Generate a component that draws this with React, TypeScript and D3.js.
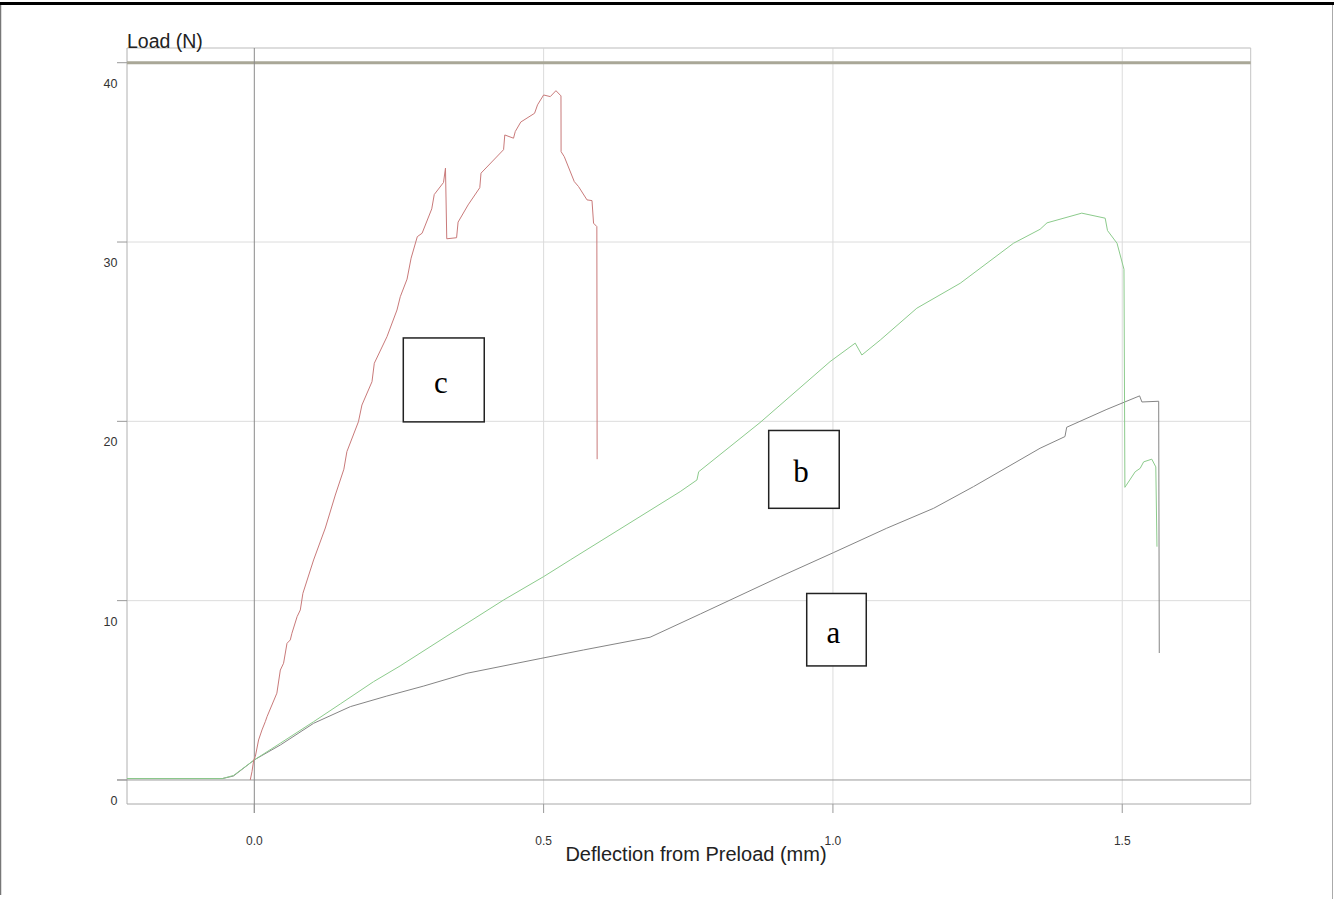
import React, { useEffect, useRef } from 'react';
import * as d3 from 'd3';

// deflection (mm), load (N) pairs
const curveA: [number, number][] = [
  [-0.22, 0.08], [-0.055, 0.08], [-0.036, 0.22], [0, 1.12], [0.045, 1.95], [0.1025, 3.16],
  [0.166, 4.09], [0.229, 4.68], [0.293, 5.24], [0.3675, 5.95], [0.494, 6.77], [0.569, 7.25],
  [0.684, 7.96], [0.771, 9.26], [0.909, 11.34], [1.001, 12.68], [1.093, 14.04], [1.174, 15.15],
  [1.243, 16.36], [1.358, 18.5], [1.401, 19.15], [1.404, 19.67], [1.4735, 20.67], [1.53, 21.42],
  [1.534, 21.08], [1.563, 21.12], [1.564, 7.08],
];

const curveB: [number, number][] = [
  [-0.22, 0.08], [-0.055, 0.08], [-0.036, 0.25], [0, 1.12], [0.045, 2.05], [0.1025, 3.25],
  [0.1486, 4.24], [0.206, 5.48], [0.252, 6.36], [0.333, 8.03], [0.431, 10.04], [0.5, 11.34],
  [0.546, 12.27], [0.736, 16.08], [0.765, 16.73], [0.768, 17.19], [0.874, 19.93], [0.995, 23.33],
  [1.0385, 24.36], [1.05, 23.7], [1.082, 24.54], [1.145, 26.31], [1.22, 27.7], [1.312, 29.93],
  [1.358, 30.71], [1.37, 31.07], [1.43, 31.61], [1.4705, 31.33], [1.4745, 30.64], [1.491, 29.93],
  [1.503, 28.48], [1.5046, 16.32], [1.5224, 17.19], [1.531, 17.38], [1.537, 17.74], [1.551, 17.89],
  [1.558, 17.46], [1.56, 13.01],
];

const curveC: [number, number][] = [
  [-0.007, 0], [-0.004, 0.46], [-0.001, 1.12], [0.0017, 1.3], [0.0074, 2.23], [0.0133, 2.79],
  [0.019, 3.25], [0.022, 3.53], [0.039, 4.84], [0.045, 6.13], [0.0506, 6.51], [0.0565, 7.62],
  [0.0622, 7.81], [0.065, 8.18], [0.074, 9.11], [0.0795, 9.48], [0.084, 10.41], [0.1025, 12.27],
  [0.1227, 14.05], [0.14, 15.89], [0.1548, 17.33], [0.16, 18.31], [0.18, 19.98], [0.186, 20.91],
  [0.2034, 22.21], [0.2074, 23.24], [0.2293, 24.72], [0.2466, 26.21], [0.2523, 26.95],
  [0.264, 27.93], [0.271, 29.1], [0.2817, 30.3], [0.29, 30.49], [0.3067, 31.85], [0.311, 32.65],
  [0.327, 33.32], [0.3304, 34.12], [0.3326, 30.18], [0.3496, 30.24], [0.3522, 31.11],
  [0.3695, 32.07], [0.3897, 33.03], [0.3918, 33.84], [0.4308, 35.15], [0.4329, 35.97],
  [0.448, 35.79], [0.451, 36.16], [0.4605, 36.69], [0.4844, 37.18], [0.4895, 37.65], [0.5, 38.2],
  [0.5115, 38.11], [0.5213, 38.44], [0.53, 38.15], [0.5302, 35.04], [0.5357, 34.76], [0.553, 33.37],
  [0.5604, 33.09], [0.575, 32.35], [0.5836, 32.31], [0.5863, 31.05], [0.592, 30.86], [0.5925, 17.89],
];

const xTicks = [0, 0.5, 1.0, 1.5];
const yTicks = [0, 10, 20, 30, 40];

// label boxes: name, left, right (mm), top, bottom (N)
const boxLabels = ['c', 'b', 'a'];
const boxX: [number, number][] = [[0.2575, 0.3974], [0.889, 1.0109], [0.9547, 1.0576]];
const boxY: [number, number][] = [[24.65, 19.97], [19.49, 15.15], [10.4, 6.36]];

const W = 1334;
const H = 899;

const App = () => {
  const ref = useRef<SVGSVGElement | null>(null);

  useEffect(() => {
    const left = 127, right = 1250.7, top = 48, bottom = 804;
    const x = d3.scaleLinear().domain([-0.22, 1.722]).range([left, right]);
    const y = d3.scaleLinear().domain([-1.34, 40.82]).range([bottom, top]);

    const svg = d3.select(ref.current);
    svg.selectAll('*').remove();

    // outer frame
    svg.append('line').attr('x1', 0).attr('x2', W).attr('y1', 3.5).attr('y2', 3.5)
      .attr('stroke', '#000').attr('stroke-width', 3);
    svg.append('line').attr('x1', 0.5).attr('x2', 0.5).attr('y1', 5).attr('y2', 895)
      .attr('stroke', '#777').attr('stroke-width', 1.5);
    svg.append('line').attr('x1', 1332.5).attr('x2', 1332.5).attr('y1', 5).attr('y2', H)
      .attr('stroke', '#aaa').attr('stroke-width', 1);

    const g = svg.append('g');

    // gridlines
    g.selectAll('line.hgrid').data(yTicks.filter((d) => d > 0 && d < 40)).enter().append('line')
      .attr('x1', left).attr('x2', right).attr('y1', (d) => y(d)).attr('y2', (d) => y(d))
      .attr('stroke', '#dcdcdc').attr('stroke-width', 1);
    g.selectAll('line.vgrid').data(xTicks.filter((d) => d > 0)).enter().append('line')
      .attr('x1', (d) => x(d)).attr('x2', (d) => x(d)).attr('y1', top).attr('y2', bottom)
      .attr('stroke', '#dcdcdc').attr('stroke-width', 1);

    // plot border
    g.append('line').attr('x1', left).attr('x2', right).attr('y1', top).attr('y2', top)
      .attr('stroke', '#d2d2d2').attr('stroke-width', 1.5);
    g.append('line').attr('x1', right).attr('x2', right).attr('y1', top).attr('y2', bottom)
      .attr('stroke', '#c4c4c4').attr('stroke-width', 1);
    g.append('line').attr('x1', left).attr('x2', left).attr('y1', top).attr('y2', bottom)
      .attr('stroke', '#b0b0b0').attr('stroke-width', 1);
    g.append('line').attr('x1', left).attr('x2', right).attr('y1', bottom).attr('y2', bottom)
      .attr('stroke', '#a8a8a8').attr('stroke-width', 1);

    // limit line at 40 N
    g.append('line').attr('x1', left).attr('x2', right).attr('y1', y(40)).attr('y2', y(40))
      .attr('stroke', '#a9a797').attr('stroke-width', 3);

    // zero axes
    g.append('line').attr('x1', 117).attr('x2', right).attr('y1', y(0)).attr('y2', y(0))
      .attr('stroke', '#9a9a9a').attr('stroke-width', 1);
    g.append('line').attr('x1', x(0)).attr('x2', x(0)).attr('y1', top).attr('y2', 813)
      .attr('stroke', '#8a8a8a').attr('stroke-width', 1);

    // ticks
    g.selectAll('line.xt').data(xTicks).enter().append('line')
      .attr('x1', (d) => x(d)).attr('x2', (d) => x(d)).attr('y1', bottom).attr('y2', 813)
      .attr('stroke', '#999');
    g.selectAll('line.yt').data(yTicks).enter().append('line')
      .attr('x1', 117).attr('x2', left).attr('y1', (d) => y(d)).attr('y2', (d) => y(d))
      .attr('stroke', '#999');

    g.selectAll('text.xl').data(xTicks).enter().append('text')
      .attr('x', (d) => x(d)).attr('y', 845).attr('text-anchor', 'middle')
      .attr('font-family', 'Liberation Sans, Arial, sans-serif').attr('font-size', 12)
      .attr('fill', '#333').text((d) => d3.format('.1f')(d));
    g.selectAll('text.yl').data(yTicks).enter().append('text')
      .attr('x', 117.5).attr('y', (d) => y(d) + 25).attr('text-anchor', 'end')
      .attr('font-family', 'Liberation Sans, Arial, sans-serif').attr('font-size', 12.5)
      .attr('fill', '#333').text((d) => d);

    // axis titles
    svg.append('text').attr('x', 127).attr('y', 48)
      .attr('font-family', 'Liberation Sans, Arial, sans-serif').attr('font-size', 19.5)
      .attr('fill', '#222').text('Load (N)');
    svg.append('text').attr('x', 696).attr('y', 861).attr('text-anchor', 'middle')
      .attr('font-family', 'Liberation Sans, Arial, sans-serif').attr('font-size', 20)
      .attr('fill', '#222').text('Deflection from Preload (mm)');

    // curves
    const line = d3.line<[number, number]>().x((d) => x(d[0])).y((d) => y(d[1]));
    const series: [[number, number][], string][] = [
      [curveA, '#858585'],
      [curveB, '#8ccb8c'],
      [curveC, '#c97a7a'],
    ];
    series.forEach(([data, color]) => {
      g.append('path').datum(data).attr('d', line).attr('fill', 'none')
        .attr('stroke', color).attr('stroke-width', 1);
    });

    // label boxes
    boxLabels.forEach((name, i) => {
      const [x0, x1] = boxX[i];
      const [y0, y1] = boxY[i];
      g.append('rect').attr('x', x(x0)).attr('y', y(y0))
        .attr('width', x(x1) - x(x0)).attr('height', y(y1) - y(y0))
        .attr('fill', '#fff').attr('stroke', '#222').attr('stroke-width', 1.5);
      g.append('text').attr('x', (x(x0) + x(x1)) / 2 - 3).attr('y', (y(y0) + y(y1)) / 2 + 13)
        .attr('text-anchor', 'middle').attr('font-family', 'Liberation Serif, serif')
        .attr('font-size', 31).attr('fill', '#000').text(name);
    });
  }, []);

  return (
    <svg ref={ref} width={W} height={H}
      style={{ position: 'absolute', left: 0, top: 0, background: '#fff' }} />
  );
};

export default App;
